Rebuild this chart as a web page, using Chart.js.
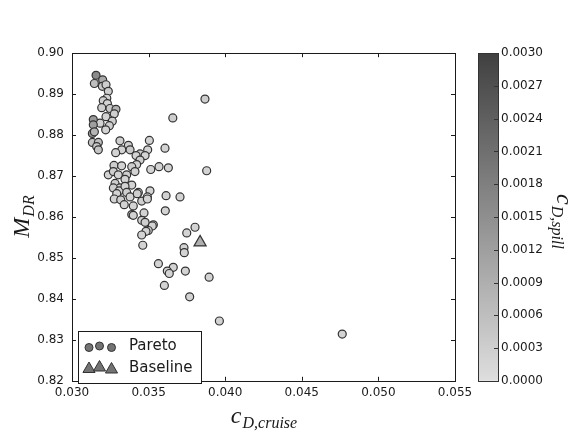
<!DOCTYPE html>
<html>
<head>
<meta charset="utf-8">
<script src="https://cdn.jsdelivr.net/npm/chart.js@4.4.1/dist/chart.umd.min.js"></script>
<style>
  html, body { margin: 0; padding: 0; background: #fff; }
</style>
</head>
<body>
<canvas id="paretoChart" width="582" height="434"></canvas>
<script>
// Pareto front: cruise drag, mass-flow recovery, spill drag (colour)
var cruiseDrag = [
  0.03157, 0.03146, 0.03200, 0.03198, 0.03222, 0.03237, 0.03227, 0.03204, 0.03231, 0.03194,
  0.03248, 0.03287, 0.03276, 0.03222, 0.03263, 0.03183, 0.03244, 0.03220, 0.03139, 0.03139,
  0.03133, 0.03146, 0.03133, 0.03172, 0.03161, 0.03172, 0.03313, 0.03505, 0.03368, 0.03325,
  0.03285, 0.03379, 0.03494, 0.03444, 0.03477, 0.03418, 0.03607, 0.03444, 0.03422, 0.03274,
  0.03324, 0.03390, 0.03514, 0.03568, 0.03629, 0.03237, 0.03270, 0.03302, 0.03357, 0.03411,
  0.03346, 0.03281, 0.03390, 0.03313, 0.03270, 0.03433, 0.03509, 0.03868, 0.03658, 0.03879,
  0.03309, 0.03346, 0.03357, 0.03292, 0.03379, 0.03426, 0.03276, 0.03318, 0.03341, 0.03400,
  0.03455, 0.03492, 0.03492, 0.03614, 0.03705, 0.03609, 0.03390, 0.03400, 0.03470, 0.03455,
  0.03477, 0.03531, 0.03524, 0.03498, 0.03483, 0.03455, 0.03462, 0.03803, 0.03749, 0.03731,
  0.03733, 0.03564, 0.03661, 0.03622, 0.03635, 0.03740, 0.03895, 0.03603, 0.03768, 0.03962,
  0.04764
];
var recovery = [
  0.8946, 0.8926, 0.8935, 0.8919, 0.8923, 0.8907, 0.8890, 0.8884, 0.8877, 0.8867,
  0.8865, 0.8863, 0.8852, 0.8845, 0.8834, 0.8829, 0.8823, 0.8813, 0.8838, 0.8825,
  0.8804, 0.8808, 0.8782, 0.8782, 0.8772, 0.8764, 0.8786, 0.8787, 0.8775, 0.8764,
  0.8757, 0.8764, 0.8764, 0.8754, 0.8750, 0.8750, 0.8768, 0.8739, 0.8728, 0.8726,
  0.8725, 0.8723, 0.8716, 0.8723, 0.8720, 0.8703, 0.8711, 0.8703, 0.8703, 0.8711,
  0.8692, 0.8682, 0.8678, 0.8671, 0.8671, 0.8660, 0.8664, 0.8888, 0.8842, 0.8713,
  0.8664, 0.8675, 0.8660, 0.8657, 0.8649, 0.8657, 0.8644, 0.8642, 0.8630, 0.8627,
  0.8639, 0.8649, 0.8644, 0.8652, 0.8649, 0.8615, 0.8606, 0.8604, 0.8610, 0.8592,
  0.8587, 0.8581, 0.8578, 0.8567, 0.8565, 0.8556, 0.8531, 0.8575, 0.8561, 0.8525,
  0.8513, 0.8486, 0.8477, 0.8468, 0.8462, 0.8468, 0.8453, 0.8433, 0.8405, 0.8346,
  0.8314
];
var spillDrag = [
  0.0016, 0.0006, 0.0010, 0.0004, 0.0003, 0.0003, 0.0002, 0.0003, 0.0002, 0.0003,
  0.0004, 0.0008, 0.0003, 0.0002, 0.0003, 0.0002, 0.0003, 0.0002, 0.0013, 0.0012,
  0.0014, 0.0008, 0.0005, 0.0006, 0.0004, 0.0005, 0.0003, 0.0002, 0.0003, 0.0002,
  0.0002, 0.0004, 0.0002, 0.0003, 0.0002, 0.0002, 0.0002, 0.0003, 0.0002, 0.0003,
  0.0002, 0.0003, 0.0002, 0.0002, 0.0002, 0.0002, 0.0003, 0.0002, 0.0003, 0.0002,
  0.0002, 0.0003, 0.0002, 0.0002, 0.0003, 0.0002, 0.0002, 0.0003, 0.0003, 0.0002,
  0.0002, 0.0002, 0.0003, 0.0002, 0.0002, 0.0003, 0.0002, 0.0003, 0.0002, 0.0002,
  0.0003, 0.0002, 0.0002, 0.0002, 0.0002, 0.0002, 0.0003, 0.0002, 0.0002, 0.0002,
  0.0003, 0.0002, 0.0002, 0.0002, 0.0002, 0.0002, 0.0002, 0.0002, 0.0002, 0.0002,
  0.0002, 0.0002, 0.0002, 0.0002, 0.0002, 0.0002, 0.0002, 0.0002, 0.0002, 0.0002,
  0.0002
];

// baseline design
var baseCruise = [0.03836];
var baseRecovery = [0.8538];
var baseSpill = [0.0009];

var seriesNames = ['Pareto', 'Baseline'];
var xRange = [0.030, 0.055], xStep = 0.005;
var yRange = [0.82, 0.90], yStep = 0.01;
var spillRange = [0.0, 0.0030], spillStep = 0.0003;

var tickFont = { family: 'DejaVu Sans', size: 12 };
var inkColor = '#1a1a1a';

// grey colour map: light at 0, dark at max
function greyFor(c) {
    var t = (c - spillRange[0]) / (spillRange[1] - spillRange[0]);
    t = Math.min(Math.max(t, 0), 1);
    var g = Math.round(222 - t * 158);
    return 'rgb(' + g + ',' + g + ',' + g + ')';
}

var paretoPoints = cruiseDrag.map(function(x, i) { return { x: x, y: recovery[i] }; });
var basePoints = baseCruise.map(function(x, i) { return { x: x, y: baseRecovery[i] }; });

function drawMathLabel(ctx, main, sub, cx, cy, angle) {
    var mainFont = 'italic 24px "Liberation Serif"';
    var subFont = 'italic 16px "Liberation Serif"';
    ctx.save();
    ctx.translate(cx, cy);
    ctx.rotate(angle);
    ctx.font = mainFont;
    var w1 = ctx.measureText(main).width;
    ctx.font = subFont;
    var w2 = ctx.measureText(sub).width;
    var start = -(w1 + w2) / 2;
    ctx.fillStyle = inkColor;
    ctx.textAlign = 'left';
    ctx.textBaseline = 'alphabetic';
    ctx.font = mainFont;
    ctx.fillText(main, start, 0);
    ctx.font = subFont;
    ctx.fillText(sub, start + w1 + 1, 5);
    ctx.restore();
}

function drawTriangle(ctx, x, y, r) {
    ctx.beginPath();
    ctx.moveTo(x, y - r);
    ctx.lineTo(x + r * 0.866, y + r * 0.5);
    ctx.lineTo(x - r * 0.866, y + r * 0.5);
    ctx.closePath();
}

// frame, inward ticks, colour bar, legend and axis titles
var decorPlugin = {
    id: 'decor',
    afterDraw: function(chart) {
        var ctx = chart.ctx;
        var a = chart.chartArea;
        var xs = chart.scales.x, ys = chart.scales.y, cs = chart.scales.cbar;
        ctx.save();
        ctx.strokeStyle = inkColor;
        ctx.lineWidth = 1;

        // plot frame
        ctx.strokeRect(Math.round(a.left) + 0.5, Math.round(a.top) + 0.5,
            Math.round(a.right - a.left), Math.round(a.bottom - a.top));

        // inward ticks
        ctx.beginPath();
        xs.ticks.forEach(function(t) {
            var px = Math.round(xs.getPixelForValue(t.value)) + 0.5;
            ctx.moveTo(px, a.bottom); ctx.lineTo(px, a.bottom - 4);
            ctx.moveTo(px, a.top); ctx.lineTo(px, a.top + 4);
        });
        ys.ticks.forEach(function(t) {
            var py = Math.round(ys.getPixelForValue(t.value)) + 0.5;
            ctx.moveTo(a.left, py); ctx.lineTo(a.left + 4, py);
            ctx.moveTo(a.right, py); ctx.lineTo(a.right - 4, py);
        });
        ctx.stroke();

        // colour bar
        var barL = 478, barW = 20;
        var barTop = cs.getPixelForValue(spillRange[1]);
        var barBot = cs.getPixelForValue(spillRange[0]);
        var grad = ctx.createLinearGradient(0, barBot, 0, barTop);
        grad.addColorStop(0, greyFor(spillRange[0]));
        grad.addColorStop(1, greyFor(spillRange[1]));
        ctx.fillStyle = grad;
        ctx.fillRect(barL, barTop, barW, barBot - barTop);
        ctx.strokeStyle = '#333';
        ctx.strokeRect(barL + 0.5, Math.round(barTop) + 0.5, barW, Math.round(barBot - barTop));
        ctx.beginPath();
        cs.ticks.forEach(function(t) {
            var py = Math.round(cs.getPixelForValue(t.value)) + 0.5;
            ctx.moveTo(barL + barW, py); ctx.lineTo(barL + barW - 4, py);
        });
        ctx.stroke();

        // legend
        var lx = 78, ly = 331, lw = 123, lh = 52;
        ctx.fillStyle = '#fff';
        ctx.fillRect(lx, ly, lw, lh);
        ctx.strokeStyle = inkColor;
        ctx.strokeRect(lx + 0.5, ly + 0.5, lw, lh);
        var markGrey = '#737373';
        ctx.strokeStyle = '#333';
        [[89, 347.5], [99.5, 346], [111.5, 347.5]].forEach(function(p) {
            ctx.beginPath();
            ctx.arc(p[0], p[1], 4, 0, Math.PI * 2);
            ctx.fillStyle = markGrey;
            ctx.fill();
            ctx.stroke();
        });
        [[89, 369], [99.5, 367.5], [111.5, 369.5]].forEach(function(p) {
            drawTriangle(ctx, p[0], p[1], 7);
            ctx.fillStyle = markGrey;
            ctx.fill();
            ctx.stroke();
        });
        ctx.fillStyle = inkColor;
        ctx.font = '15px "DejaVu Sans"';
        ctx.textAlign = 'left';
        ctx.textBaseline = 'middle';
        ctx.fillText(chart.data.datasets[0].label, 129, 346);
        ctx.fillText(chart.data.datasets[1].label, 129, 368);
        ctx.restore();

        // axis titles
        drawMathLabel(ctx, 'M', 'DR', 29, (a.top + a.bottom) / 2, -Math.PI / 2);
        drawMathLabel(ctx, 'c', 'D,cruise', (a.left + a.right) / 2, 423, 0);
        drawMathLabel(ctx, 'c', 'D,spill', 557, (a.top + a.bottom) / 2 + 4, Math.PI / 2);
    }
};

var ctx = document.getElementById('paretoChart').getContext('2d');
var paretoChart = new Chart(ctx, {
    type: 'scatter',
    data: {
        datasets: [{
            label: seriesNames[0],
            data: paretoPoints,
            pointStyle: 'circle',
            pointRadius: 4,
            pointHoverRadius: 4,
            borderWidth: 1.2,
            borderColor: '#333',
            backgroundColor: function(c) { return greyFor(spillDrag[c.dataIndex]); }
        }, {
            label: seriesNames[1],
            data: basePoints,
            pointStyle: 'triangle',
            pointRadius: 7,
            pointHoverRadius: 7,
            borderWidth: 1.2,
            borderColor: '#333',
            backgroundColor: function(c) { return greyFor(baseSpill[c.dataIndex]); }
        }]
    },
    options: {
        responsive: false,
        animation: false,
        layout: { padding: { top: 19, left: 0, right: 0, bottom: 0 } },
        plugins: {
            legend: { display: false },
            tooltip: { enabled: false }
        },
        scales: {
            x: {
                type: 'linear',
                min: xRange[0],
                max: xRange[1],
                grid: { display: false, drawTicks: false },
                border: { display: false },
                ticks: {
                    stepSize: xStep,
                    autoSkip: false,
                    maxRotation: 0,
                    padding: 5,
                    color: inkColor,
                    font: tickFont,
                    callback: function(v) { return v.toFixed(3); }
                },
                afterFit: function(s) { s.height = 44; }
            },
            y: {
                type: 'linear',
                min: yRange[0],
                max: yRange[1],
                grid: { display: false, drawTicks: false },
                border: { display: false },
                ticks: {
                    stepSize: yStep,
                    autoSkip: false,
                    padding: 8,
                    color: inkColor,
                    font: tickFont,
                    callback: function(v) { return v.toFixed(2); }
                },
                afterFit: function(s) { s.width = 72; }
            },
            cbar: {
                type: 'linear',
                position: 'right',
                min: spillRange[0],
                max: spillRange[1],
                grid: { display: false, drawTicks: false },
                border: { display: false },
                ticks: {
                    stepSize: spillStep,
                    autoSkip: false,
                    padding: 46,
                    color: inkColor,
                    font: tickFont,
                    callback: function(v) { return v.toFixed(4); }
                },
                afterFit: function(s) { s.width = 127; }
            }
        }
    },
    plugins: [decorPlugin]
});
</script>
</body>
</html>
